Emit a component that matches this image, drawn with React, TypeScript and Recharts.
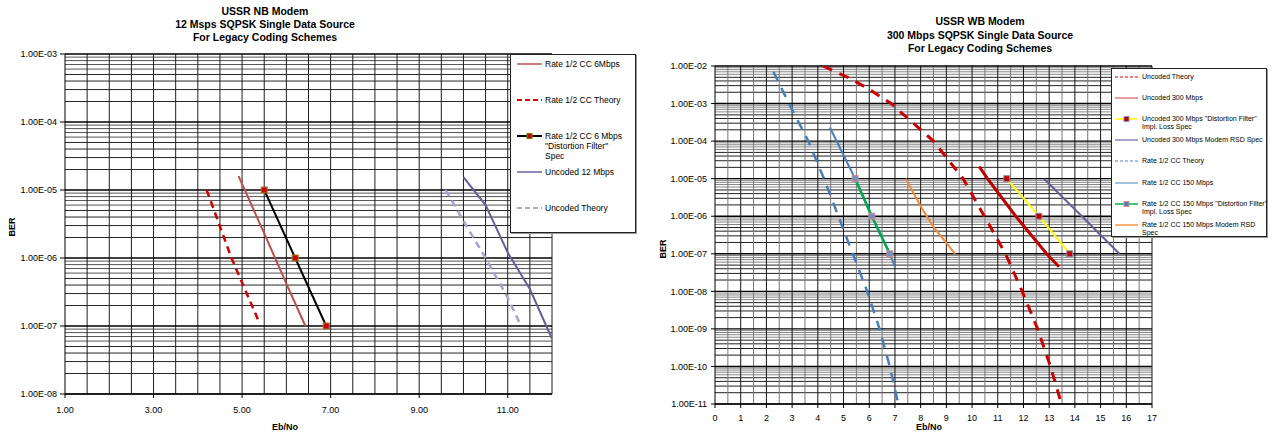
import React from 'react';
import { LineChart, Line, XAxis, YAxis, ReferenceLine } from 'recharts';

const FONT = '"Liberation Sans", Arial, sans-serif';

// ---------- left chart: USSR NB Modem ----------
const nbXTicks = [1, 3, 5, 7, 9, 11];
const nbYTicks = [1e-8, 1e-7, 1e-6, 1e-5, 1e-4, 1e-3];

const nbCc6Eb = [4.92, 5.5, 6.0, 6.43];
const nbCc6Ber = [1.6e-5, 2.3e-6, 4.2e-7, 1e-7];
const nbCcTheoryEb = [4.2, 4.76, 5.37];
const nbCcTheoryBer = [1e-5, 1e-6, 1.2e-7];
const nbCcSpecEb = [5.5, 6.2, 6.9];
const nbCcSpecBer = [1e-5, 1e-6, 1e-7];
const nbUnc12Eb = [10.0, 10.5, 11.0, 11.5, 12.0];
const nbUnc12Ber = [1.55e-5, 6e-6, 1.2e-6, 3.5e-7, 6.5e-8];
const nbUncTheoryEb = [9.6, 10.0, 10.5, 11.0, 11.3];
const nbUncTheoryBer = [1e-5, 3.5e-6, 1e-6, 2.6e-7, 1e-7];

// ---------- right chart: USSR WB Modem ----------
const wbXTicks = [0, 1, 2, 3, 4, 5, 6, 7, 8, 9, 10, 11, 12, 13, 14, 15, 16, 17];
const wbYTicks = [1e-11, 1e-10, 1e-9, 1e-8, 1e-7, 1e-6, 1e-5, 1e-4, 1e-3, 1e-2];

const wbUncTheoryEb = [4.2, 5.3, 6.0, 6.85, 8.5, 9.65, 10.48, 11.3, 11.95, 12.55, 13.05, 13.48];
const wbUncTheoryBer = [1e-2, 4.5e-3, 2.4e-3, 1e-3, 1e-4, 1e-5, 1e-6, 1e-7, 1e-8, 1e-9, 1e-10, 1e-11];
const wbUnc300Eb = [10.28, 10.6, 11.7, 12.9, 13.38];
const wbUnc300Ber = [2.1e-5, 1e-5, 1e-6, 1e-7, 4.5e-8];
const wbUncSpecEb = [11.35, 12.6, 13.8];
const wbUncSpecBer = [1e-5, 1e-6, 1e-7];
const wbUncRsdEb = [12.8, 14.27, 15.73];
const wbUncRsdBer = [1e-5, 1e-6, 1e-7];
const wbCcTheoryEb = [2.27, 2.88, 3.63, 4.24, 4.8, 5.36, 5.92, 6.4, 6.8, 7.13];
const wbCcTheoryBer = [7e-3, 1e-3, 1e-4, 1e-5, 1e-6, 1e-7, 1e-8, 1e-9, 1e-10, 1e-11];
const wbCc150Eb = [4.47, 5.45, 6.1, 6.8, 7.0];
const wbCc150Ber = [2.3e-4, 1e-5, 1e-6, 1e-7, 4.5e-8];
const wbCcSpecEb = [5.45, 6.1, 6.8];
const wbCcSpecBer = [1e-5, 1e-6, 1e-7];
const wbCcRsdEb = [7.42, 8.05, 8.5, 9.34];
const wbCcRsdBer = [1e-5, 1.6e-6, 5.2e-7, 1e-7];

const MINOR = [2, 3, 4, 5, 6, 7, 8, 9];

const pts = (xs: number[], ys: number[]) => xs.map((x, i) => ({ x, y: ys[i] }));

const sci = (v: number) => {
  const [m, e] = v.toExponential(2).split('e');
  const n = parseInt(e, 10);
  return `${m}E${n < 0 ? '-' : '+'}${String(Math.abs(n)).padStart(2, '0')}`;
};

const minorsOf = (decades: number[]) =>
  decades.slice(0, -1).flatMap((d) => MINOR.map((m) => ({ v: Number((m * d).toPrecision(3)), m })));

const halfSteps = (a: number, b: number) => {
  const out: number[] = [];
  for (let v = a; v <= b + 1e-9; v += 0.5) out.push(v);
  return out;
};

const square = (fill: string, stroke: string, size = 6) => (p: any) => {
  if (p.cx == null || p.cy == null) return <g key={`n-${p.index}`} />;
  return (
    <rect
      key={`sq-${p.index}`}
      x={p.cx - size / 2}
      y={p.cy - size / 2}
      width={size}
      height={size}
      fill={fill}
      stroke={stroke}
      strokeWidth={1}
    />
  );
};

const tickStyle = { fontSize: 9, fill: '#000', fontFamily: FONT };

type LegendItem = {
  label: string[];
  color: string;
  width: number;
  dash?: string;
  marker?: { fill: string; stroke: string };
};

const nbLegend: LegendItem[] = [
  { label: ['Rate 1/2 CC 6Mbps'], color: '#C0504D', width: 1.5 },
  { label: ['Rate 1/2 CC Theory'], color: '#E00000', width: 2, dash: '5 3' },
  { label: ['Rate 1/2 CC 6 Mbps', '"Distortion Filter"', 'Spec'], color: '#000', width: 2, marker: { fill: '#CC0000', stroke: '#808000' } },
  { label: ['Uncoded 12 Mbps'], color: '#7060A0', width: 1.5 },
  { label: ['Uncoded Theory'], color: '#B0A6D6', width: 2, dash: '5 3' },
];

const wbLegend: LegendItem[] = [
  { label: ['Uncoded Theory'], color: '#E00000', width: 1, dash: '3 2' },
  { label: ['Uncoded 300 Mbps'], color: '#D04040', width: 1 },
  { label: ['Uncoded 300 Mbps "Distortion Filter"', 'Impl. Loss Spec'], color: '#FFFF00', width: 1.5, marker: { fill: '#C00000', stroke: '#9090B0' } },
  { label: ['Uncoded 300 Mbps Modem RSD Spec'], color: '#9080C0', width: 1.5 },
  { label: ['Rate 1/2 CC Theory'], color: '#4F81BD', width: 1, dash: '3 2' },
  { label: ['Rate 1/2 CC 150 Mbps'], color: '#4F81BD', width: 1 },
  { label: ['Rate 1/2 CC 150 Mbps "Distortion Filter"', 'Impl. Loss Spec'], color: '#00B050', width: 1.5, marker: { fill: '#4F81BD', stroke: '#D09090' } },
  { label: ['Rate 1/2 CC 150 Mbps Modem RSD', 'Spec'], color: '#F79646', width: 1.5 },
];

const LegendBox = ({
  items, left, top, width, height, first, step, fontSize, lineHeight, symX, symW, textX, family,
}: {
  items: LegendItem[]; left: number; top: number; width: number; height: number; first: number; step: number;
  fontSize: number; lineHeight: number; symX: number; symW: number; textX: number; family: string;
}) => (
  <div
    style={{
      position: 'absolute', left, top, width, height, background: '#fff', border: '1px solid #222',
      boxShadow: '1px 1px 0 #999', boxSizing: 'border-box', fontFamily: family, fontSize, color: '#000',
    }}
  >
    {items.map((it, i) => {
      const cy = first + step * i;
      return (
        <div key={i}>
          <svg style={{ position: 'absolute', left: symX, top: cy - 4 }} width={symW} height={8}>
            <line x1={0} y1={4} x2={symW} y2={4} stroke={it.color} strokeWidth={it.width} strokeDasharray={it.dash} />
            {it.marker && (
              <rect x={symW / 2 - 2.5} y={1.5} width={5} height={5} fill={it.marker.fill} stroke={it.marker.stroke} strokeWidth={1} />
            )}
          </svg>
          <div style={{ position: 'absolute', left: textX, top: cy - lineHeight / 2, lineHeight: `${lineHeight}px`, whiteSpace: 'nowrap' }}>
            {it.label.map((l, j) => (
              <div key={j}>{l}</div>
            ))}
          </div>
        </div>
      );
    })}
  </div>
);

const Title = ({ lines, cx, top, lh }: { lines: string[]; cx: number; top: number; lh: number }) => (
  <div
    style={{
      position: 'absolute', left: cx - 160, top, width: 320, textAlign: 'center', fontFamily: FONT,
      fontWeight: 'bold', fontSize: 10.5, lineHeight: `${lh}px`, color: '#000',
    }}
  >
    {lines.map((l, i) => (
      <div key={i}>{l}</div>
    ))}
  </div>
);

const AxisTitle = ({ text, cx, cy, rotate }: { text: string; cx: number; cy: number; rotate?: boolean }) => (
  <div
    style={{
      position: 'absolute', left: cx - 40, top: cy - 6, width: 80, height: 12, lineHeight: '12px', textAlign: 'center',
      fontFamily: FONT, fontWeight: 'bold', fontSize: 9, color: '#000', transform: rotate ? 'rotate(-90deg)' : undefined,
    }}
  >
    {text}
  </div>
);

const gridLines = (
  prefix: string,
  decades: number[],
  vLines: number[],
  vColor: (v: number) => string,
  minorColor: (m: number) => string,
) => [
  ...minorsOf(decades).map(({ v, m }) => (
    <ReferenceLine key={`${prefix}m${v}`} y={v} stroke={minorColor(m)} strokeWidth={1} zIndex={-100} />
  )),
  ...vLines.map((v) => (
    <ReferenceLine key={`${prefix}v${v}`} x={v} stroke={vColor(v)} strokeWidth={1} zIndex={-100} />
  )),
  ...decades.map((v) => (
    <ReferenceLine key={`${prefix}d${v}`} y={v} stroke="#000" strokeWidth={1.4} zIndex={-100} />
  )),
];

const NbChart = () => (
  <LineChart width={640} height={432} margin={{ top: 54, right: 88, bottom: 0, left: 0 }}>
    <XAxis
      type="number" dataKey="x" domain={[1, 12]} ticks={nbXTicks} interval={0} allowDataOverflow
      tickFormatter={(v: number) => v.toFixed(2)} height={38} tickSize={4} tickMargin={9}
      tick={tickStyle} axisLine={{ stroke: '#000' }} tickLine={{ stroke: '#000' }}
    />
    <YAxis
      type="number" scale="log" domain={[1e-8, 1e-3]} ticks={nbYTicks} interval={0} allowDataOverflow
      tickFormatter={sci} width={65} tickSize={5} tickMargin={3}
      tick={tickStyle} axisLine={{ stroke: '#000' }} tickLine={{ stroke: '#000' }}
    />
    {gridLines('nb', nbYTicks, halfSteps(1.5, 12), () => '#1e1e1e', (m) => (m >= 6 ? '#555' : '#262626'))}
    <Line data={pts(nbCc6Eb, nbCc6Ber)} dataKey="y" stroke="#B8504C" strokeWidth={2} dot={false} isAnimationActive={false} />
    <Line data={pts(nbCcTheoryEb, nbCcTheoryBer)} dataKey="y" stroke="#D00000" strokeWidth={2.5} strokeDasharray="7 5" dot={false} isAnimationActive={false} />
    <Line data={pts(nbCcSpecEb, nbCcSpecBer)} dataKey="y" stroke="#000" strokeWidth={2} dot={square('#CC0000', '#A08020', 6)} isAnimationActive={false} />
    <Line data={pts(nbUnc12Eb, nbUnc12Ber)} dataKey="y" stroke="#6B5B9A" strokeWidth={2} dot={false} isAnimationActive={false} />
    <Line data={pts(nbUncTheoryEb, nbUncTheoryBer)} dataKey="y" stroke="#ABA0D2" strokeWidth={2.5} strokeDasharray="7 5" dot={false} isAnimationActive={false} />
  </LineChart>
);

const WbChart = () => (
  <LineChart width={633} height={432} margin={{ top: 66, right: 121, bottom: 0, left: 0 }}>
    <XAxis
      type="number" dataKey="x" domain={[0, 17]} ticks={wbXTicks} interval={0} allowDataOverflow
      height={28} tickSize={4} tickMargin={7}
      tick={tickStyle} axisLine={{ stroke: '#000' }} tickLine={{ stroke: '#000' }}
    />
    <YAxis
      type="number" scale="log" domain={[1e-11, 1e-2]} ticks={wbYTicks} interval={0} allowDataOverflow
      tickFormatter={sci} width={75} tickSize={4} tickMargin={4}
      tick={tickStyle} axisLine={{ stroke: '#000' }} tickLine={{ stroke: '#000' }}
    />
    {gridLines(
      'wb', wbYTicks, halfSteps(0.5, 17),
      (v) => (Number.isInteger(v) ? '#151515' : '#777'),
      (m) => (m >= 6 ? '#858585' : '#222'),
    )}
    <Line data={pts(wbUncTheoryEb, wbUncTheoryBer)} dataKey="y" stroke="#CC0000" strokeWidth={3} strokeDasharray="10 8" dot={false} isAnimationActive={false} />
    <Line data={pts(wbUnc300Eb, wbUnc300Ber)} dataKey="y" stroke="#C00000" strokeWidth={3} dot={false} isAnimationActive={false} />
    <Line data={pts(wbUncSpecEb, wbUncSpecBer)} dataKey="y" stroke="#FFFF00" strokeWidth={2} dot={square('#C00000', '#9090B0', 6)} isAnimationActive={false} />
    <Line data={pts(wbUncRsdEb, wbUncRsdBer)} dataKey="y" stroke="#6B5B9A" strokeWidth={2} dot={false} isAnimationActive={false} />
    <Line data={pts(wbCcTheoryEb, wbCcTheoryBer)} dataKey="y" stroke="#4A7EBB" strokeWidth={2.5} strokeDasharray="10 8" dot={false} isAnimationActive={false} />
    <Line data={pts(wbCc150Eb, wbCc150Ber)} dataKey="y" stroke="#4A7EBB" strokeWidth={2} dot={false} isAnimationActive={false} />
    <Line data={pts(wbCcSpecEb, wbCcSpecBer)} dataKey="y" stroke="#00A850" strokeWidth={2.5} dot={square('#6E8FC8', '#D09090', 6)} isAnimationActive={false} />
    <Line data={pts(wbCcRsdEb, wbCcRsdBer)} dataKey="y" stroke="#F08A3C" strokeWidth={2} dot={false} isAnimationActive={false} />
  </LineChart>
);

export default function App() {
  return (
    <div style={{ position: 'absolute', left: 0, top: 0, width: 1273, height: 432, background: '#fff', overflow: 'hidden' }}>
      <div style={{ position: 'absolute', left: 0, top: 0 }}>
        <NbChart />
      </div>
      <div style={{ position: 'absolute', left: 640, top: 0 }}>
        <WbChart />
      </div>

      <Title lines={['USSR NB Modem', '12 Msps SQPSK Single Data Source', 'For Legacy Coding Schemes']} cx={265} top={5} lh={13} />
      <Title lines={['USSR WB Modem', '300 Mbps SQPSK Single Data Source', 'For Legacy Coding Schemes']} cx={980} top={15} lh={13.7} />

      <AxisTitle text="BER" cx={12} cy={227} rotate />
      <AxisTitle text="Eb/No" cx={285} cy={427} />
      <AxisTitle text="BER" cx={663} cy={249} rotate />
      <AxisTitle text="Eb/No" cx={929} cy={427} />

      <LegendBox
        items={nbLegend} left={510} top={54} width={126} height={179} first={9} step={36}
        fontSize={8.5} lineHeight={10} symX={6} symW={25} textX={34} family={FONT}
      />
      <LegendBox
        items={wbLegend} left={1111} top={68} width={156} height={169} first={8} step={21.1}
        fontSize={7} lineHeight={8} symX={3} symW={23} textX={30} family={FONT}
      />
    </div>
  );
}
